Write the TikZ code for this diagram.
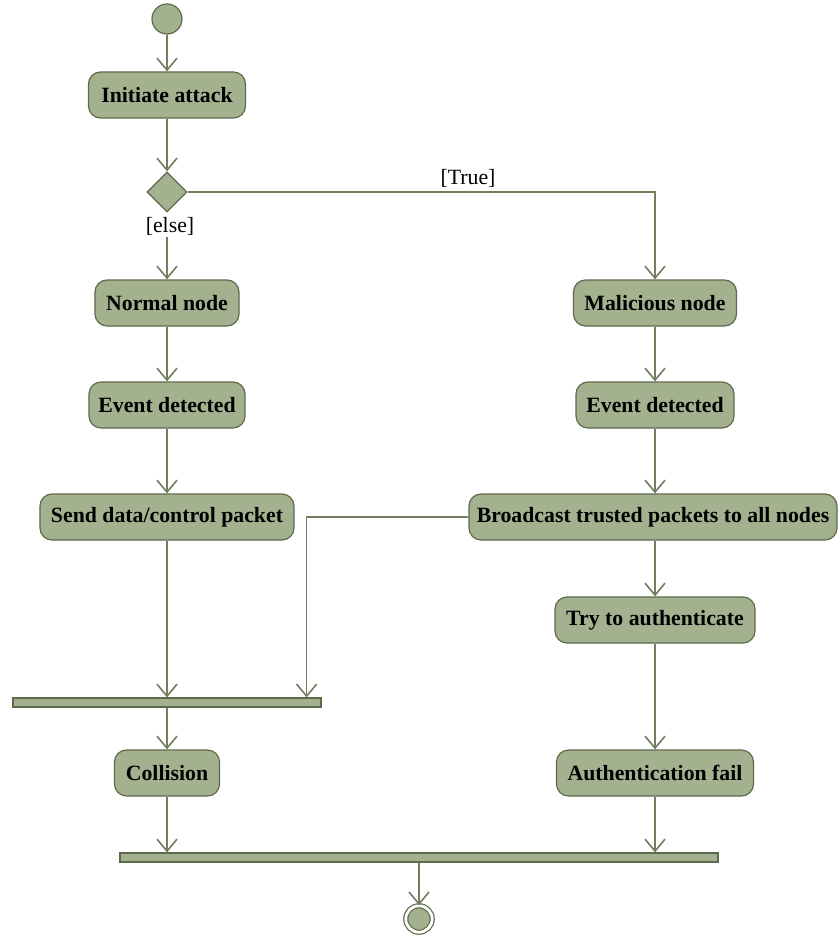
\documentclass[tikz,border=0pt]{standalone}
\usepackage{fontspec}
\setmainfont{Liberation Serif}
\usetikzlibrary{arrows.meta,shapes.geometric}
\definecolor{actfill}{HTML}{A3B18F}
\definecolor{actline}{HTML}{5E6A4C}
\definecolor{flowline}{HTML}{737D5F}
\tikzset{
    activity/.style={draw=actline, fill=actfill, line width=0.3mm, rounded corners=3mm,
        minimum height=11.5mm, inner xsep=0pt, font=\fontsize{15.5}{18}\selectfont\bfseries},
    flow/.style={draw=flowline, line width=0.4mm, -{Straight Barb[length=3mm,width=5mm,line width=0.4mm]}},
    guard/.style={font=\fontsize{15.5}{18}\selectfont, inner sep=1pt},
    joinbar/.style={draw=actline, fill=actfill, line width=0.3mm, minimum height=2.25mm, inner sep=0pt},
}
\begin{document}
\begin{tikzpicture}[x=0.25mm,y=-0.25mm]
        \useasboundingbox (0,0) rectangle (837,937);
        %% Start and decision
        \node[circle, draw=actline, fill=actfill, line width=0.3mm, minimum size=7.5mm, inner sep=0pt] (start) at (167,19) {};
        \node[activity, minimum width=39.25mm] (init) at (167,95) {Initiate attack};
        \node[diamond, draw=actline, fill=actfill, line width=0.3mm, minimum size=10mm, inner sep=0pt] (dec) at (167,192) {};
        \node[guard, anchor=north] (elseLbl) at (170,216) {[else]};
        %% Normal node branch
        \node[activity, minimum width=36mm] (normal) at (167,303) {Normal node};
        \node[activity, minimum width=39mm] (evL) at (167,405) {Event detected};
        \node[activity, minimum width=63.5mm] (send) at (167,517) {Send data/control packet};
        \node[joinbar, minimum width=77mm] (joinA) at (167,702.5) {};
        \node[activity, minimum width=26.25mm] (coll) at (167,773) {Collision};
        %% Malicious node branch
        \node[activity, minimum width=40.75mm] (mal) at (655,303) {Malicious node};
        \node[activity, minimum width=39.5mm] (evR) at (655,405) {Event detected};
        \node[activity, minimum width=92mm] (bcast) at (653,517) {Broadcast trusted packets to all nodes};
        \node[activity, minimum width=50mm] (auth) at (655,620) {Try to authenticate};
        \node[activity, minimum width=49.25mm] (fail) at (655,773) {Authentication fail};
        %% Final join and end
        \node[joinbar, minimum width=149.5mm] (joinB) at (419,857.5) {};
        \node[circle, draw=actline, fill=actfill, line width=0.3mm, double=white, double distance=0.7mm,
            minimum size=6.6mm, inner sep=0pt] (final) at (419,919) {};
        %% Flows
        \foreach \a/\b in {start/init, init/dec, normal/evL, evL/send, mal/evR, auth/fail} {
            \draw[flow] (\a) -- (\b);
        }
        \draw[flow] (elseLbl.south -| normal.north) -- (normal.north);
        \draw[flow] (dec.east) -| node[guard, above, pos=0.3, yshift=2pt] {[True]} (mal.north);
        \draw[flow] (evR.south) -- (evR.south |- bcast.north);
        \draw[flow] (bcast.south -| auth.north) -- (auth.north);
        \draw[flow] (send.south) -- (send.south |- joinA.north);
        \draw[flow] (bcast.west) -| ([xshift=-3.75mm]joinA.north east);
        \draw[flow] (joinA.south -| coll.north) -- (coll.north);
        \draw[flow] (coll.south) -- (coll.south |- joinB.north);
        \draw[flow] (fail.south) -- (fail.south |- joinB.north);
        \draw[flow] (joinB.south -| final.north) -- (final.north);
    \end{tikzpicture}
\end{document}
